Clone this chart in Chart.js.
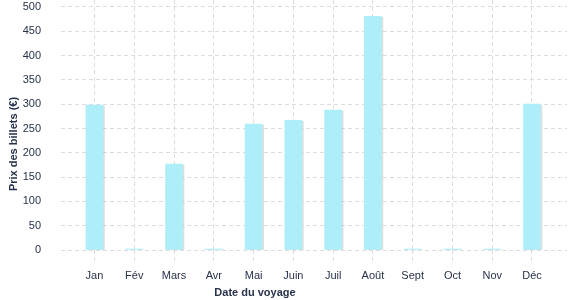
<!DOCTYPE html>
<html>
<head>
<meta charset="utf-8">
<script src="https://cdn.jsdelivr.net/npm/chart.js@4"></script>
<style>
html,body{margin:0;padding:0;background:#fff;}
#wrap{width:577px;height:300px;position:relative;}
</style>
</head>
<body>
<div id="wrap"><canvas id="c" width="577" height="300"></canvas></div>
<script>
const months = ['Jan','Fév','Mars','Avr','Mai','Juin','Juil','Août','Sept','Oct','Nov','Déc'];
const prices = [298, 2, 177, 2, 259, 267, 288, 481, 2, 2, 2, 300];
const yTicks = [0, 50, 100, 150, 200, 250, 300, 350, 400, 450, 500];
const xTitle = 'Date du voyage';
const yTitle = 'Prix des billets (€)';

const textColor = '#27324a';
const gridColor = '#dddddd';
const font = {family: '"Liberation Sans", Arial, sans-serif', size: 11};

const shadowPlugin = {
  id: 'barShadow',
  beforeDatasetsDraw(chart) {
    const ctx = chart.ctx;
    ctx.save();
    ctx.shadowColor = 'rgba(0,0,0,0.13)';
    ctx.shadowOffsetX = 1.5;
    ctx.shadowOffsetY = 1;
    ctx.shadowBlur = 0;
  },
  afterDatasetsDraw(chart) {
    chart.ctx.restore();
  }
};

const titlePlugin = {
  id: 'axisTitles',
  afterDraw(chart) {
    const ctx = chart.ctx;
    ctx.save();
    ctx.fillStyle = textColor;
    ctx.font = 'bold 11px "Liberation Sans", Arial, sans-serif';
    ctx.textAlign = 'center';
    ctx.textBaseline = 'middle';
    ctx.fillText(xTitle, 255, 293);
    ctx.translate(14, 144);
    ctx.rotate(-Math.PI / 2);
    ctx.fillText(yTitle, 0, 0);
    ctx.restore();
  }
};

new Chart(document.getElementById('c'), {
  type: 'bar',
  data: {
    datasets: [{
      data: prices.map((v, i) => ({x: i, y: v})),
      backgroundColor: '#aeeef8',
      borderWidth: 0,
      barThickness: 17,
      minBarLength: 1
    }]
  },
  options: {
    responsive: false,
    animation: false,
    layout: {padding: {top: 0, right: 10, bottom: 0, left: 0}},
    plugins: {legend: {display: false}, tooltip: {enabled: false}},
    scales: {
      x: {
        type: 'linear',
        offset: false,
        min: -0.842,
        max: 11.88,
        afterBuildTicks(s) { s.ticks = months.map((_, i) => ({value: i})); },
        afterFit(s) { s.height = 50; s.paddingTop = 0; s.paddingBottom = 0; },
        border: {display: false, dash: [4, 3]},
        grid: {
          offset: false,
          color: gridColor,
          lineWidth: 1,
          drawTicks: true,
          tickLength: 13,
          tickColor: gridColor,
          tickBorderDash: [4, 3]
        },
        ticks: {
          color: textColor,
          font: font,
          padding: 6,
          maxRotation: 0,
          autoSkip: false,
          callback: (v) => months[v]
        }
      },
      y: {
        min: 0,
        max: 514.4,
        afterBuildTicks(s) { s.ticks = yTicks.map(v => ({value: v})); },
        afterFit(s) { s.width = 61; s.paddingTop = 0; s.paddingBottom = 0; },
        border: {display: false, dash: [4, 3]},
        grid: {
          color: gridColor,
          lineWidth: 1,
          drawTicks: false
        },
        ticks: {
          color: textColor,
          font: font,
          padding: 20
        }
      }
    }
  },
  plugins: [shadowPlugin, titlePlugin]
});
</script>
</body>
</html>
